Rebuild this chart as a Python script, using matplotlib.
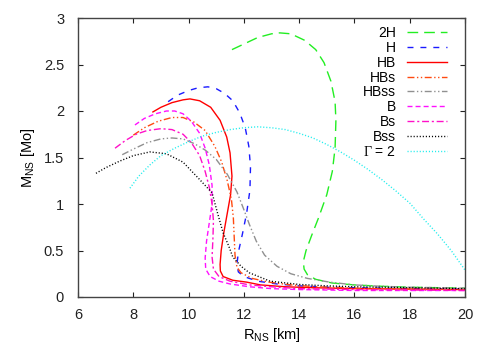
import matplotlib
matplotlib.use("Agg")
import matplotlib.pyplot as plt

plt.rcParams['font.family'] = ['Liberation Sans', 'DejaVu Sans']
plt.rcParams['mathtext.fontset'] = 'custom'
plt.rcParams['mathtext.rm'] = 'Liberation Sans'
plt.rcParams['mathtext.it'] = 'Liberation Sans'
plt.rcParams['mathtext.sf'] = 'Liberation Serif'

# ---- data (R in km, M in solar masses) ----
R_2H = [11.57, 12.0, 12.5, 13.0, 13.3, 13.7, 14.2, 14.6, 14.9, 15.15, 15.3, 15.33, 15.3, 15.2, 15.0, 14.7,
        14.45, 14.25, 14.15, 14.18, 14.3, 14.6, 15.2, 16, 17, 18, 19, 20]
M_2H = [2.66, 2.72, 2.79, 2.83, 2.84, 2.83, 2.76, 2.66, 2.52, 2.32, 2.1, 1.9, 1.6, 1.35, 1.1, 0.85,
        0.66, 0.5, 0.38, 0.3, 0.24, 0.19, 0.15, 0.13, 0.115, 0.105, 0.1, 0.095]

R_H = [9.26, 9.6, 10.0, 10.35, 10.7, 11.0, 11.3, 11.6, 11.85, 12.05, 12.18, 12.24, 12.22, 12.1, 11.95,
       11.8, 11.75, 11.8, 12.0, 12.5, 13.2, 14, 15, 16, 17, 18, 19, 20]
M_H = [2.10, 2.17, 2.22, 2.25, 2.26, 2.24, 2.19, 2.11, 1.98, 1.82, 1.62, 1.4, 1.15, 0.9, 0.68,
       0.48, 0.35, 0.27, 0.22, 0.17, 0.14, 0.12, 0.105, 0.1, 0.095, 0.09, 0.088, 0.085]

R_HB = [8.71, 9.0, 9.4, 9.8, 10.05, 10.4, 10.8, 11.14, 11.38, 11.5, 11.57, 11.52, 11.4, 11.28, 11.18,
        11.14, 11.15, 11.25, 11.6, 12.1, 12.6, 13.5, 14.5, 16, 18, 20]
M_HB = [1.99, 2.04, 2.09, 2.12, 2.13, 2.11, 2.04, 1.90, 1.72, 1.55, 1.30, 1.1, 0.9, 0.7, 0.5,
        0.35, 0.28, 0.22, 0.18, 0.16, 0.13, 0.11, 0.1, 0.09, 0.085, 0.08]

R_HBs = [8.0, 8.4, 8.9, 9.4, 9.8, 10.2, 10.6, 10.95, 11.2, 11.4, 11.55, 11.62, 11.65, 11.68, 11.75,
         11.9, 12.3, 12.9, 13.7, 14.6, 16, 18, 20]
M_HBs = [1.74, 1.82, 1.89, 1.93, 1.93, 1.88, 1.79, 1.62, 1.45, 1.25, 1.05, 0.85, 0.65, 0.45, 0.32,
         0.26, 0.2, 0.16, 0.13, 0.11, 0.095, 0.085, 0.08]

R_HBss = [7.6, 8.0, 8.5, 9.0, 9.4, 9.8, 10.2, 10.6, 11.0, 11.4, 11.75, 12.0, 12.2, 12.45, 12.75, 13.2,
          13.7, 14.3, 15.1, 16, 17, 18, 19, 20]
M_HBss = [1.53, 1.59, 1.66, 1.70, 1.71, 1.70, 1.65, 1.58, 1.48, 1.32, 1.13, 0.94, 0.78, 0.6, 0.45, 0.33,
          0.25, 0.2, 0.16, 0.13, 0.115, 0.105, 0.1, 0.095]

R_B = [8.06, 8.4, 8.8, 9.2, 9.5, 9.8, 10.1, 10.4, 10.6, 10.75, 10.85, 10.85, 10.75, 10.65, 10.6,
       10.62, 10.78, 11.1, 11.5, 12.2, 13, 14, 15, 16, 18, 20]
M_B = [1.85, 1.92, 1.97, 2.0, 2.0, 1.97, 1.89, 1.76, 1.6, 1.42, 1.2, 1.0, 0.8, 0.6, 0.42,
       0.3, 0.22, 0.17, 0.14, 0.11, 0.09, 0.08, 0.075, 0.07, 0.07, 0.07]

R_Bs = [7.34, 7.7, 8.1, 8.5, 9.0, 9.4, 9.8, 10.1, 10.4, 10.6, 10.75, 10.85, 10.9, 10.88, 10.85,
        10.9, 11.1, 11.5, 12.2, 13, 14, 16, 18, 20]
M_Bs = [1.6, 1.68, 1.75, 1.79, 1.81, 1.8, 1.75, 1.66, 1.52, 1.35, 1.18, 1.0, 0.82, 0.62, 0.43,
        0.3, 0.22, 0.17, 0.13, 0.11, 0.09, 0.08, 0.075, 0.07]

R_Bss = [6.65, 7.0, 7.5, 8.0, 8.6, 9.2, 9.8, 10.41, 10.85, 11.05, 11.25, 11.45, 11.6, 11.9, 12.2,
         12.95, 14, 15, 16, 17, 18, 19, 20]
M_Bss = [1.33, 1.39, 1.46, 1.52, 1.56, 1.54, 1.45, 1.26, 1.12, 0.9, 0.69, 0.55, 0.43, 0.33, 0.26,
         0.17, 0.135, 0.12, 0.11, 0.105, 0.1, 0.095, 0.09]

R_G2 = [7.88, 8.2, 8.6, 9.0, 9.5, 10.0, 10.5, 11.0, 11.5, 12.0, 12.5, 13.0, 13.5, 14.0, 14.5, 15.0,
        15.5, 16.0, 16.5, 17.0, 17.5, 18.0, 18.5, 19.0, 19.5, 20.0]
M_G2 = [1.17, 1.3, 1.42, 1.52, 1.6, 1.67, 1.73, 1.77, 1.8, 1.82, 1.83, 1.82, 1.8, 1.76, 1.71, 1.64,
        1.56, 1.47, 1.37, 1.26, 1.14, 1.01, 0.84, 0.68, 0.5, 0.29]

labels = ["2H", "H", "HB", "HBs", "HBss", "B", "Bs", "Bss", r"$\mathsf{\Gamma}$ = 2"]
x_ticks = [6, 8, 10, 12, 14, 16, 18, 20]
y_ticks = [0, 0.5, 1, 1.5, 2, 2.5, 3]
y_ticklabels = ["0", "0.5", "1", "1.5", "2", "2.5", "3"]

fig = plt.figure(figsize=(4.91, 3.43), dpi=100)
ax = fig.add_axes([78/491, 46/343, (465-78)/491, (297-18)/343])

lw = 1.0
ax.plot(R_2H, M_2H, color='#22ee22', lw=lw, dashes=(7.7, 4.3), label=labels[0])
ax.plot(R_H, M_H, color='#1a1aff', lw=lw, dashes=(4.3, 5), label=labels[1])
ax.plot(R_HB, M_HB, color='#ff0000', lw=lw, ls='-', label=labels[2])
ax.plot(R_HBs, M_HBs, color='#ff4a10', lw=lw, dashes=(5, 1.8, 1, 1.8, 1, 1.8), label=labels[3])
ax.plot(R_HBss, M_HBss, color='#909090', lw=lw, dashes=(5, 1.8, 1, 1.8, 1, 1.8), label=labels[4])
ax.plot(R_B, M_B, color='#ff10ff', lw=lw, dashes=(3.6, 2.2), label=labels[5])
ax.plot(R_Bs, M_Bs, color='#ff10c8', lw=lw, dashes=(5, 2, 1.5, 2), label=labels[6])
ax.plot(R_Bss, M_Bss, color='#000000', lw=lw, dashes=(0.8, 1.4), label=labels[7])
ax.plot(R_G2, M_G2, color='#22eeee', lw=lw, dashes=(0.8, 1.4), label=labels[8])

ax.set_xlim(6, 20)
ax.set_ylim(0, 3)
ax.set_xticks(x_ticks)
ax.set_yticks(y_ticks)
ax.set_yticklabels(y_ticklabels)
ax.tick_params(direction='in', length=3.5, width=0.8, top=True, right=True, labelsize=10.5, colors='#222222')
ax.tick_params(axis='x', pad=8)
ax.tick_params(axis='y', pad=10)
for s in ax.spines.values():
    s.set_linewidth(1.0)
    s.set_color('#444444')

ax.set_xlabel(r"R$_{\mathrm{NS}}$ [km]", fontsize=10.5, labelpad=3)
ax.set_ylabel(r"M$_{\mathrm{NS}}$ [Mo]", fontsize=10.5, labelpad=5)

leg = ax.legend(loc='upper right', bbox_to_anchor=(447/491, (343-26)/343), bbox_transform=fig.transFigure,
                frameon=False, markerfirst=False, fontsize=10, handlelength=2.9,
                labelspacing=0.06, handletextpad=0.75, borderpad=0, borderaxespad=0)

fig.savefig("out.png", dpi=100)
